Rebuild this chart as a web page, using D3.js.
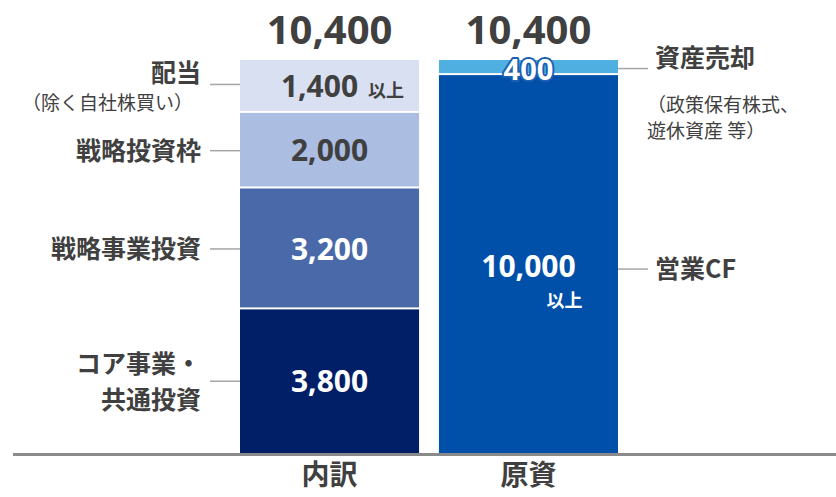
<!DOCTYPE html>
<html>
<head>
<meta charset="utf-8">
<script src="https://cdn.jsdelivr.net/npm/d3@7"></script>
<style>
body { margin: 0; background: #fff; }
text { fill: #404040; }
.jp { font-family: "Noto Sans CJK JP", sans-serif; }
.num { font-family: "Open Sans", "Noto Sans CJK JP", sans-serif; font-weight: bold; }
</style>
</head>
<body>
<svg id="chart" width="836" height="497"></svg>
<script>
// data
var categories = ["内訳", "原資"];
var totals = [10400, 10400];
var useKeys = ["コア事業・共通投資", "戦略事業投資", "戦略投資枠", "配当"];
var useValues = [3800, 3200, 2000, 1400];
var srcKeys = ["営業CF", "資産売却"];
var srcValues = [10000, 400];

var leftNotes = [
  ["コア事業・", "共通投資"],
  ["戦略事業投資"],
  ["戦略投資枠"],
  ["配当", "（除く自社株買い）"]
];
var rightNotes = [
  ["営業CF"],
  ["資産売却", "（政策保有株式、", "遊休資産 等）"]
];

var useColors = ["#001f66", "#4a69a8", "#abbde1", "#d9e0f1"];
var srcColors = ["#0050aa", "#4eafe0"];
var useText = ["#fff", "#fff", "#404040", "#404040"];

var svg = d3.select("#chart");
var fmt = d3.format(",");

var x = d3.scaleBand().domain(categories).range([240, 618]).paddingInner(0.1).paddingOuter(0);
var y = d3.scaleLinear().domain([0, 10400]).range([453, 60]);
var bw = x.bandwidth();

function stackUp(vals) {
  var acc = 0;
  return vals.map(function(v, i) {
    var s = { i: i, v: v, y0: acc, y1: acc + v };
    acc += v;
    return s;
  });
}
var useStack = stackUp(useValues);
var srcStack = stackUp(srcValues);

function drawBar(stack, cat, colors) {
  svg.append("g").selectAll("rect").data(stack).enter().append("rect")
    .attr("x", x(cat))
    .attr("width", bw)
    .attr("y", function(d) { return y(d.y1); })
    .attr("height", function(d) { return y(d.y0) - y(d.y1) - (d.y0 > 0 ? 2 : 0); })
    .attr("fill", function(d, i) { return colors[i]; });
}
drawBar(useStack, categories[0], useColors);
drawBar(srcStack, categories[1], srcColors);

// baseline
svg.append("line")
  .attr("x1", 13).attr("x2", 836)
  .attr("y1", y(0) + 1.5).attr("y2", y(0) + 1.5)
  .attr("stroke", "#8a8a8a").attr("stroke-width", 3);

// category labels
var ax = svg.append("g").attr("transform", "translate(0," + (y(0) + 3) + ")")
  .call(d3.axisBottom(x).tickSize(0).tickPadding(14));
ax.select(".domain").remove();
ax.selectAll("text")
  .attr("class", "jp")
  .style("font-size", "28px").style("font-weight", "bold")
  .attr("fill", "#404040").attr("dy", "0.55em");

// totals
svg.selectAll(".tot").data(totals).enter().append("text")
  .attr("class", "num")
  .attr("x", function(d, i) { return x(categories[i]) + bw / 2; })
  .attr("y", y(10400) - 16)
  .attr("text-anchor", "middle")
  .style("font-size", "40px")
  .text(function(d) { return fmt(d); });

// value labels, left bar
var xl = x(categories[0]);
useStack.forEach(function(d, i) {
  var mid = (y(d.y0) + y(d.y1)) / 2;
  var t = svg.append("text").attr("class", "num")
    .attr("y", mid).attr("dy", "0.36em")
    .attr("fill", useText[i]).style("fill", useText[i])
    .style("font-size", "30px");
  if (i === useStack.length - 1) {
    t.attr("x", xl + bw - 15).attr("text-anchor", "end");
    t.append("tspan").text(fmt(d.v));
    t.append("tspan").attr("dx", 10).style("font-size", "18px")
      .style("font-family", "'Noto Sans CJK JP'").text("以上");
  } else {
    t.attr("x", xl + bw / 2).attr("text-anchor", "middle").text(fmt(d.v));
  }
});

// value labels, right bar
var xr = x(categories[1]);
var s0 = srcStack[0];
var m0 = (y(s0.y0) + y(s0.y1)) / 2;
svg.append("text").attr("class", "num")
  .attr("x", xr + bw / 2).attr("y", m0 + 2).attr("dy", "0.36em")
  .attr("text-anchor", "middle").style("fill", "#fff").style("font-size", "30px")
  .text(fmt(s0.v));
svg.append("text").attr("class", "jp")
  .attr("x", xr + bw / 2 + 54).attr("y", m0 + 36).attr("dy", "0.36em")
  .attr("text-anchor", "end").style("fill", "#fff")
  .style("font-size", "18px").style("font-weight", "bold")
  .text("以上");
var s1 = srcStack[1];
svg.append("text").attr("class", "num")
  .attr("x", xr + bw / 2).attr("y", (y(s1.y0) + y(s1.y1)) / 2 + 2).attr("dy", "0.36em")
  .attr("text-anchor", "middle")
  .style("fill", "#fff").style("stroke", "#1b5fb2").style("stroke-width", 4)
  .style("paint-order", "stroke").style("stroke-linejoin", "round")
  .style("font-size", "29px")
  .text(fmt(s1.v));

// leader lines + notes
function note(lines, ly, side) {
  var lx1 = side === "l" ? 210 : 618;
  var lx2 = side === "l" ? 240 : 648;
  svg.append("line").attr("x1", lx1).attr("x2", lx2).attr("y1", ly).attr("y2", ly)
    .attr("stroke", "#a6a6a6").attr("stroke-width", 1.5);
  var tx = side === "l" ? 201 : 655;
  var anchor = side === "l" ? "end" : "start";
  var g = svg.append("g");
  if (lines.length === 1) {
    g.append("text").attr("class", "jp").attr("x", tx).attr("y", ly).attr("dy", "0.36em")
      .attr("text-anchor", anchor).style("font-size", "25px").style("font-weight", "bold")
      .text(lines[0]);
  } else if (side === "l" && lines.length === 2 && lines[0] === "コア事業・") {
    lines.forEach(function(s, k) {
      g.append("text").attr("class", "jp").attr("x", tx).attr("y", ly - 17 + k * 36).attr("dy", "0.36em")
        .attr("text-anchor", anchor).style("font-size", "25px").style("font-weight", "bold")
        .text(s);
    });
  } else {
    g.append("text").attr("class", "jp").attr("x", tx).attr("y", ly - 11).attr("dy", "0.36em")
      .attr("text-anchor", anchor).style("font-size", "25px").style("font-weight", "bold")
      .text(lines[0]);
    lines.slice(1).forEach(function(s, k) {
      g.append("text").attr("class", "jp")
        .attr("x", side === "l" ? tx - 8 : tx - 8)
        .attr("y", ly + 19 + (side === "r" ? 18 : 0) + k * 26).attr("dy", "0.36em")
        .attr("text-anchor", anchor).style("font-size", "19px").text(s);
    });
  }
}
useStack.forEach(function(d, i) {
  note(leftNotes[i], (y(d.y0) + y(d.y1)) / 2 - (i === 3 ? 2 : 0), "l");
});
note(rightNotes[0], m0 + 5, "r");
note(rightNotes[1], (y(s1.y0) + y(s1.y1)) / 2 + 1, "r");
</script>
</body>
</html>
